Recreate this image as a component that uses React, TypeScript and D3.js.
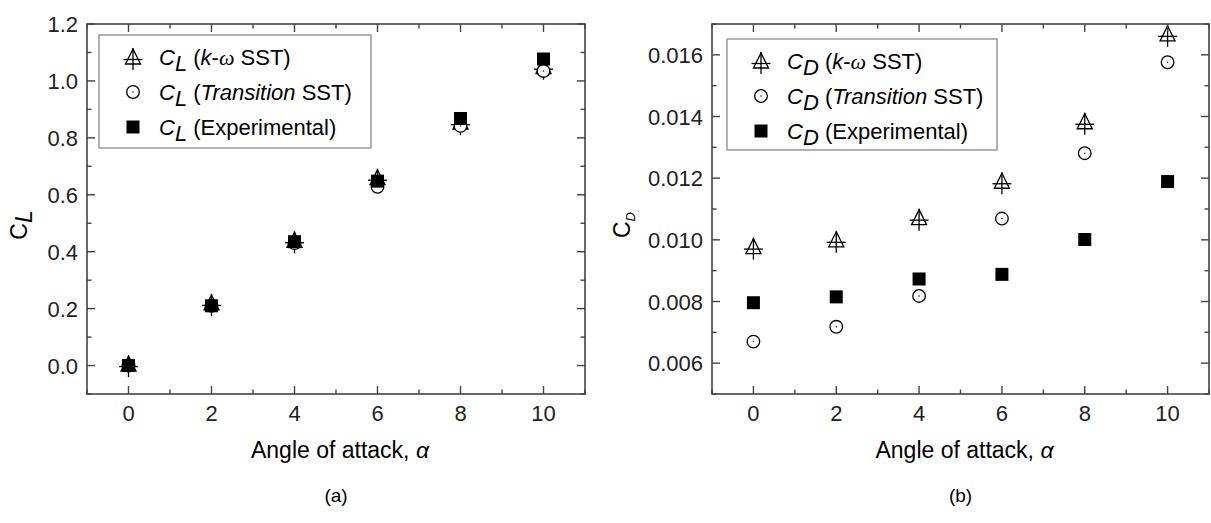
import React from "react";
import * as d3 from "d3";

const angles = [0, 2, 4, 6, 8, 10];
const clKwSST = [0.005, 0.22, 0.44, 0.66, 0.855, 1.05];
const clTransSST = [0.0, 0.21, 0.43, 0.628, 0.842, 1.035];
const clExp = [0.0, 0.21, 0.435, 0.648, 0.868, 1.077];
const cdKwSST = [0.00978, 0.01, 0.01072, 0.0119, 0.01383, 0.01668];
const cdTransSST = [0.0067, 0.00718, 0.00818, 0.01069, 0.01281, 0.01576];
const cdExp = [0.00796, 0.00815, 0.00873, 0.00888, 0.01001, 0.01189];

const xTicks = [0, 2, 4, 6, 8, 10];
const xMinor = [-1, 1, 3, 5, 7, 9, 11];
const clTicks = [0, 0.2, 0.4, 0.6, 0.8, 1.0, 1.2];
const clMinor = [-0.1, 0.1, 0.3, 0.5, 0.7, 0.9, 1.1];
const cdTicks = [0.006, 0.008, 0.01, 0.012, 0.014, 0.016];
const cdMinor = [0.005, 0.007, 0.009, 0.011, 0.013, 0.015, 0.017];

const FONT = "Arial, 'Liberation Sans', sans-serif";
const FRAME = "#444";

function Triangle({ cx, cy }: { cx: number; cy: number }) {
  return (
    <g stroke="#000" strokeWidth={1.3} fill="none">
      <path d={`M${cx},${cy - 8}L${cx + 7.5},${cy + 7}L${cx - 7.5},${cy + 7}Z`} />
      <line x1={cx - 9.5} x2={cx + 9.5} y1={cy + 2.5} y2={cy + 2.5} />
      <line x1={cx} x2={cx} y1={cy - 9} y2={cy + 13} />
    </g>
  );
}
function Circle({ cx, cy }: { cx: number; cy: number }) {
  return (
    <g>
      <circle cx={cx} cy={cy} r={6.3} fill="#fff" stroke="#000" strokeWidth={1.3} />
      <circle cx={cx} cy={cy} r={0.7} fill="#000" />
    </g>
  );
}
function Square({ cx, cy }: { cx: number; cy: number }) {
  return <rect x={cx - 6.5} y={cy - 6.5} width={13} height={13} fill="#000" />;
}

type PanelProps = {
  x0: number; x1: number; y0: number; y1: number;
  yDomain: [number, number];
  yTicks: number[]; yMinor: number[]; fmt: (v: number) => string;
  s1: number[]; s2: number[]; s3: number[];
  sub: string;
  legend: { x: number; y: number; w: number; h: number };
  yLabel: React.ReactNode;
  tag: string;
};

function Panel(p: PanelProps) {
  const x = d3.scaleLinear().domain([-1, 11]).range([p.x0, p.x1]);
  const y = d3.scaleLinear().domain(p.yDomain).range([p.y1, p.y0]);
  const maj = 8, min = 4.5;
  const cxm = (p.x0 + p.x1) / 2;
  const lx = p.legend.x + 34;
  const tx = p.legend.x + 60;
  const rows = [p.legend.y + 22, p.legend.y + 57, p.legend.y + 92];
  const legendText = (i: number) => {
    const base = rows[i] + 7.5;
    return (
      <text x={tx} y={base} fontSize={22} fontFamily={FONT} fill="#000">
        <tspan fontStyle="italic">C</tspan>
        <tspan fontStyle="italic" dy={6}>{p.sub}</tspan>
        <tspan dy={-6}> (</tspan>
        {i === 0 && (
          <>
            <tspan fontStyle="italic">k</tspan>
            <tspan>-</tspan>
            <tspan fontStyle="italic" fontFamily="'Liberation Serif', 'DejaVu Serif', serif">ω</tspan>
            <tspan> SST)</tspan>
          </>
        )}
        {i === 1 && (
          <>
            <tspan fontStyle="italic">Transition</tspan>
            <tspan> SST)</tspan>
          </>
        )}
        {i === 2 && <tspan>Experimental)</tspan>}
      </text>
    );
  };
  return (
    <g>
      {angles.map((a, i) => <Triangle key={"t" + i} cx={x(a)} cy={y(p.s1[i])} />)}
      {angles.map((a, i) => <Circle key={"c" + i} cx={x(a)} cy={y(p.s2[i])} />)}
      {angles.map((a, i) => <Square key={"s" + i} cx={x(a)} cy={y(p.s3[i])} />)}
      <rect x={p.x0} y={p.y0} width={p.x1 - p.x0} height={p.y1 - p.y0} fill="none" stroke={FRAME} strokeWidth={1.6} />
      <g stroke={FRAME} strokeWidth={1.4}>
        {xTicks.map((t) => (
          <g key={"xt" + t}>
            <line x1={x(t)} x2={x(t)} y1={p.y1} y2={p.y1 - maj} />
            <line x1={x(t)} x2={x(t)} y1={p.y0} y2={p.y0 + maj} />
          </g>
        ))}
        {xMinor.map((t) => (
          <g key={"xm" + t}>
            <line x1={x(t)} x2={x(t)} y1={p.y1} y2={p.y1 - min} />
            <line x1={x(t)} x2={x(t)} y1={p.y0} y2={p.y0 + min} />
          </g>
        ))}
        {p.yTicks.map((t) => (
          <g key={"yt" + t}>
            <line x1={p.x0} x2={p.x0 + maj} y1={y(t)} y2={y(t)} />
            <line x1={p.x1} x2={p.x1 - maj} y1={y(t)} y2={y(t)} />
          </g>
        ))}
        {p.yMinor.map((t) => (
          <g key={"ym" + t}>
            <line x1={p.x0} x2={p.x0 + min} y1={y(t)} y2={y(t)} />
            <line x1={p.x1} x2={p.x1 - min} y1={y(t)} y2={y(t)} />
          </g>
        ))}
      </g>
      <g fontFamily={FONT} fontSize={22} fill="#222">
        {xTicks.map((t) => (
          <text key={"xl" + t} x={x(t)} y={p.y1 + 27} textAnchor="middle">{t}</text>
        ))}
        {p.yTicks.map((t) => (
          <text key={"yl" + t} x={p.x0 - 9} y={y(t) + 8} textAnchor="end">{p.fmt(t)}</text>
        ))}
      </g>
      <text x={cxm + 4} y={458} textAnchor="middle" fontFamily={FONT} fontSize={23} fill="#000">
        Angle of attack, <tspan fontStyle="italic">α</tspan>
      </text>
      <text x={cxm} y={502} textAnchor="middle" fontFamily={FONT} fontSize={19} fill="#000">{p.tag}</text>
      {p.yLabel}
      <rect x={p.legend.x} y={p.legend.y} width={p.legend.w} height={p.legend.h} fill="#fff" stroke="#999" strokeWidth={1.5} />
      <Triangle cx={lx} cy={rows[0]} />
      <Circle cx={lx} cy={rows[1]} />
      <Square cx={lx} cy={rows[2]} />
      {[0, 1, 2].map((i) => <g key={"lg" + i}>{legendText(i)}</g>)}
    </g>
  );
}

export default function App() {
  return (
    <svg width={1211} height={523} style={{ position: "absolute", left: 0, top: 0, background: "#fff" }}>
      <rect width={1211} height={523} fill="#fff" />
      <Panel
        x0={87} x1={585} y0={24} y1={394}
        yDomain={[-0.1, 1.2]} yTicks={clTicks} yMinor={clMinor}
        fmt={(v) => d3.format(".1f")(v)}
        s1={clKwSST} s2={clTransSST} s3={clExp}
        sub="L"
        legend={{ x: 99, y: 35, w: 272, h: 113 }}
        tag="(a)"
        yLabel={
          <text transform="translate(27,225) rotate(-90)" textAnchor="middle" fontFamily={FONT} fontSize={23} fill="#000">
            <tspan>C</tspan>
            <tspan fontStyle="italic" dy={5}>L</tspan>
          </text>
        }
      />
      <Panel
        x0={712} x1={1209} y0={24} y1={394}
        yDomain={[0.005, 0.017]} yTicks={cdTicks} yMinor={cdMinor}
        fmt={(v) => d3.format(".3f")(v)}
        s1={cdKwSST} s2={cdTransSST} s3={cdExp}
        sub="D"
        legend={{ x: 727, y: 39, w: 270, h: 111 }}
        tag="(b)"
        yLabel={
          <text transform="translate(630,225) rotate(-90)" textAnchor="middle" fontFamily={FONT} fontSize={23} fill="#000">
            <tspan>C</tspan>
            <tspan fontStyle="italic" fontSize={13} dy={5}>D</tspan>
          </text>
        }
      />
    </svg>
  );
}
